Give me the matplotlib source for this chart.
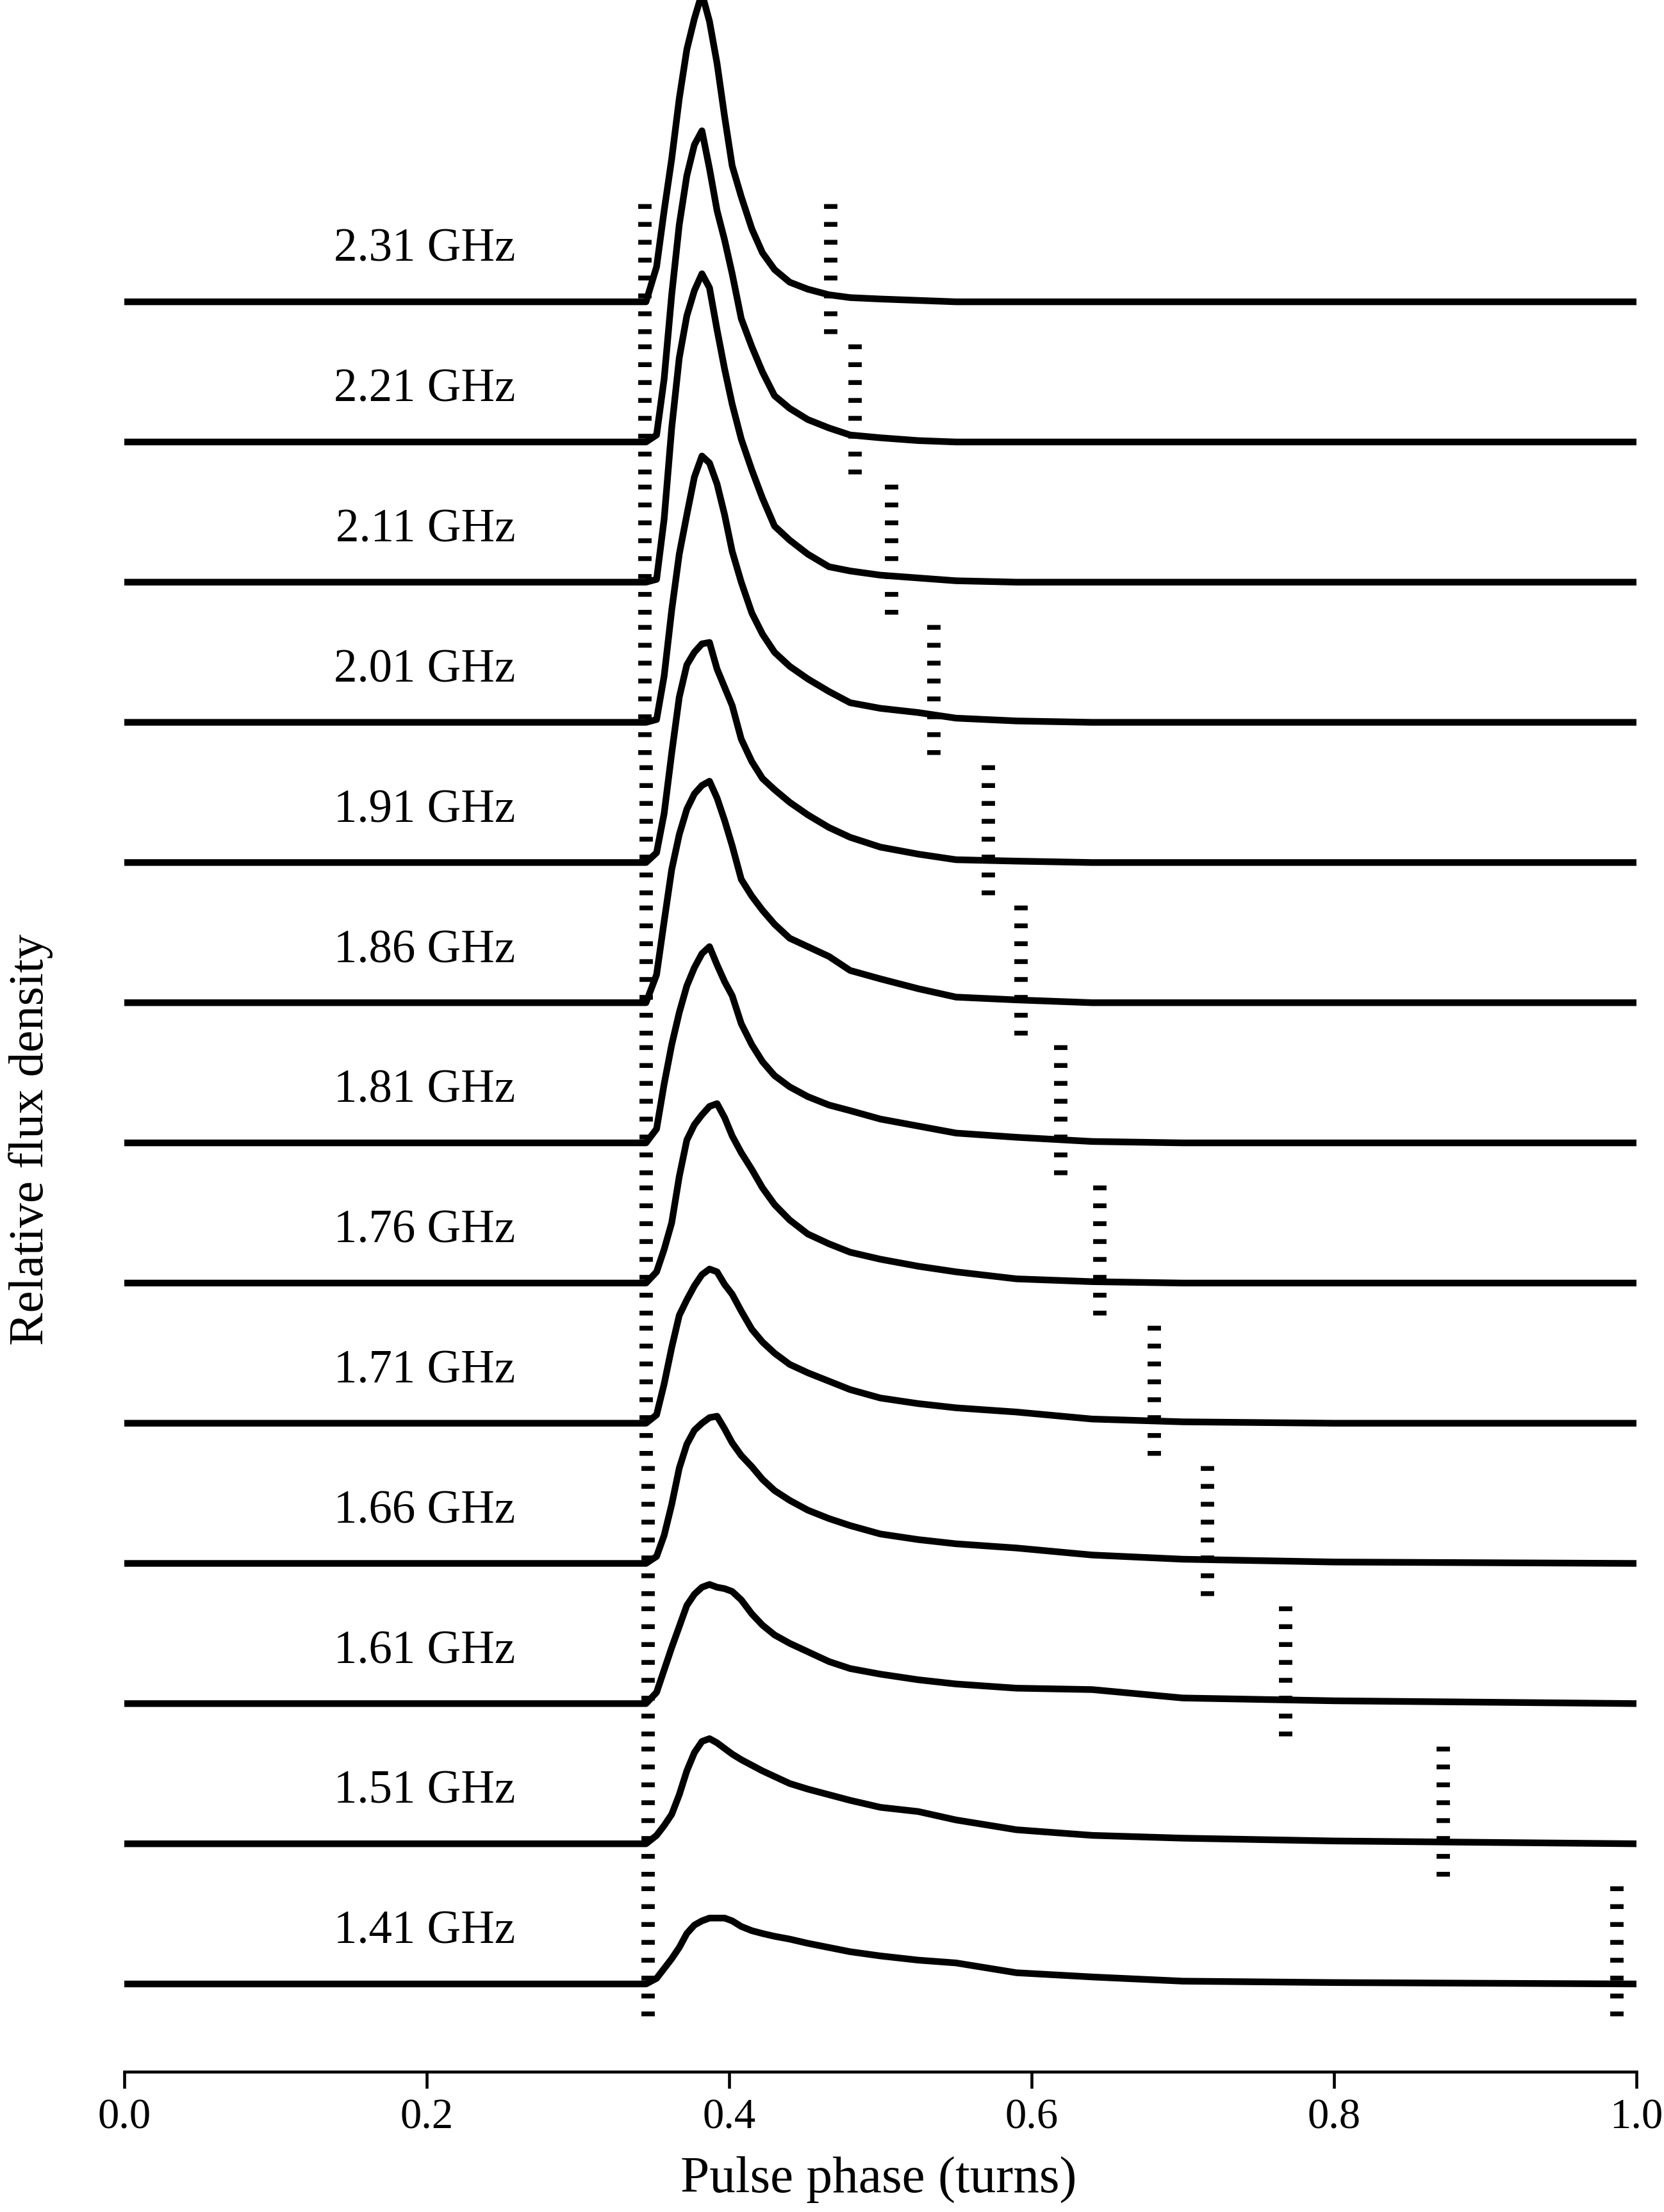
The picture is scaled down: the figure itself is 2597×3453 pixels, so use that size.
import matplotlib
matplotlib.use('Agg')
import matplotlib.pyplot as plt

plt.rcParams['font.family'] = ['Liberation Serif', 'DejaVu Serif']

# ---------------- data ----------------
freq_labels = ['2.31 GHz', '2.21 GHz', '2.11 GHz', '2.01 GHz', '1.91 GHz', '1.86 GHz',
               '1.81 GHz', '1.76 GHz', '1.71 GHz', '1.66 GHz', '1.61 GHz', '1.51 GHz',
               '1.41 GHz']

phase_grid = [0.0, 0.345, 0.352, 0.357, 0.362, 0.367, 0.372, 0.377, 0.382, 0.387,
              0.392, 0.397, 0.402, 0.408, 0.415, 0.422, 0.430, 0.440, 0.452, 0.466,
              0.480, 0.500, 0.525, 0.550, 0.590, 0.640, 0.700, 0.800, 1.0]

prof_231 = [0, 0, 0.25, 0.65, 1.02, 1.45, 1.80, 2.02, 2.20, 2.00, 1.70, 1.32, 0.97, 0.75,
            0.52, 0.35, 0.23, 0.14, 0.09, 0.05, 0.03, 0.02, 0.01, 0, 0, 0, 0, 0, 0]
prof_221 = [0, 0, 0.05, 0.45, 1.05, 1.55, 1.90, 2.12, 2.22, 1.95, 1.65, 1.44, 1.20, 0.88,
            0.68, 0.50, 0.33, 0.24, 0.16, 0.10, 0.05, 0.03, 0.01, 0, 0, 0, 0, 0, 0]
prof_211 = [0, 0, 0.02, 0.45, 1.10, 1.60, 1.90, 2.08, 2.20, 2.10, 1.80, 1.52, 1.27, 1.02,
            0.80, 0.60, 0.40, 0.30, 0.20, 0.11, 0.08, 0.05, 0.03, 0.01, 0, 0, 0, 0, 0]
prof_201 = [0, 0, 0.02, 0.33, 0.80, 1.20, 1.48, 1.75, 1.90, 1.85, 1.70, 1.48, 1.22, 1.00,
            0.78, 0.63, 0.50, 0.40, 0.31, 0.22, 0.14, 0.10, 0.07, 0.03, 0.01, 0, 0, 0, 0]
prof_191 = [0, 0, 0.07, 0.35, 0.78, 1.18, 1.41, 1.50, 1.56, 1.57, 1.38, 1.25, 1.12, 0.88,
            0.72, 0.60, 0.52, 0.43, 0.34, 0.25, 0.18, 0.11, 0.06, 0.02, 0.01, 0, 0, 0, 0]
prof_186 = [0, 0, 0.20, 0.58, 0.95, 1.20, 1.38, 1.49, 1.55, 1.58, 1.46, 1.30, 1.12, 0.88,
            0.76, 0.66, 0.56, 0.46, 0.40, 0.33, 0.23, 0.17, 0.10, 0.04, 0.02, 0, 0, 0, 0]
prof_181 = [0, 0, 0.10, 0.42, 0.70, 0.93, 1.12, 1.25, 1.35, 1.40, 1.27, 1.15, 1.05, 0.85,
            0.70, 0.58, 0.48, 0.40, 0.33, 0.27, 0.23, 0.17, 0.12, 0.07, 0.04, 0.01, 0, 0, 0]
prof_176 = [0, 0, 0.08, 0.24, 0.43, 0.76, 1.02, 1.13, 1.20, 1.26, 1.28, 1.18, 1.05, 0.93,
            0.81, 0.68, 0.56, 0.45, 0.35, 0.28, 0.22, 0.17, 0.12, 0.08, 0.03, 0.01, 0, 0, 0]
prof_171 = [0, 0, 0.06, 0.28, 0.54, 0.77, 0.88, 0.98, 1.06, 1.10, 1.08, 0.99, 0.92, 0.80,
            0.67, 0.58, 0.50, 0.42, 0.36, 0.30, 0.24, 0.18, 0.14, 0.11, 0.08, 0.03, 0.01, 0, 0]
prof_166 = [0, 0, 0.05, 0.20, 0.42, 0.68, 0.85, 0.95, 1.00, 1.04, 1.05, 0.96, 0.86, 0.77,
            0.69, 0.60, 0.52, 0.45, 0.38, 0.32, 0.27, 0.21, 0.17, 0.14, 0.11, 0.06, 0.03, 0.01, 0]
prof_161 = [0, 0, 0.08, 0.24, 0.40, 0.55, 0.70, 0.78, 0.83, 0.85, 0.83, 0.82, 0.80, 0.74,
            0.64, 0.56, 0.49, 0.43, 0.37, 0.30, 0.25, 0.21, 0.17, 0.14, 0.11, 0.10, 0.04, 0.02, 0]
prof_151 = [0, 0, 0.06, 0.13, 0.21, 0.35, 0.52, 0.65, 0.73, 0.75, 0.72, 0.68, 0.64, 0.60,
            0.56, 0.52, 0.48, 0.43, 0.39, 0.35, 0.31, 0.26, 0.23, 0.17, 0.10, 0.06, 0.04, 0.02, 0]
prof_141 = [0, 0, 0.04, 0.11, 0.18, 0.26, 0.36, 0.42, 0.45, 0.47, 0.47, 0.47, 0.45, 0.41,
            0.38, 0.36, 0.34, 0.32, 0.29, 0.26, 0.23, 0.20, 0.17, 0.15, 0.08, 0.05, 0.02, 0.01, 0]

# phases of the dotted window markers (left / right edge of each profile)
left_edge = [0.344, 0.344, 0.344, 0.344, 0.345, 0.345, 0.345, 0.345, 0.345, 0.346,
             0.346, 0.346, 0.346]
right_edge = [0.467, 0.483, 0.507, 0.535, 0.571, 0.593, 0.619, 0.645, 0.681, 0.716,
              0.768, 0.872, 0.987]

x_ticks = [0.0, 0.2, 0.4, 0.6, 0.8, 1.0]
x_tick_labels = ['0.0', '0.2', '0.4', '0.6', '0.8', '1.0']

profiles = [prof_231, prof_221, prof_211, prof_201, prof_191, prof_186, prof_181,
            prof_176, prof_171, prof_166, prof_161, prof_151, prof_141]

# ---------------- figure ----------------
W, H, DPI = 2597, 3453, 300
fig = plt.figure(figsize=(W / DPI, H / DPI), dpi=DPI)
ax = fig.add_axes([194 / W, 1 - 3234 / H, 2360 / W, 3234 / H])

n = len(profiles)
for i, (lab, prof, le, re) in enumerate(zip(freq_labels, profiles, left_edge, right_edge)):
    base = (n - 1 - i) * 1.0
    for xm in (le, re):
        ax.plot([xm, xm], [base - 0.23, base + 0.70], color='black', lw=5.0,
                dashes=(0.36, 0.98), dash_capstyle='butt', zorder=1)
    ax.plot(phase_grid, [base + v for v in prof], color='black', lw=2.5,
            solid_joinstyle='round', zorder=2)
    ax.text(0.2585, base + 0.37, lab, ha='right', va='center', fontsize=17.5)

ax.set_xlim(0, 1)
ax.set_ylim(-0.626, 14.153)

for s in ('top', 'right', 'left'):
    ax.spines[s].set_visible(False)
ax.spines['bottom'].set_linewidth(1.1)
ax.set_yticks([])
ax.set_xticks(x_ticks)
ax.set_xticklabels(x_tick_labels)
ax.tick_params(axis='x', direction='out', length=6.3, width=1.1, pad=3.6, labelsize=16)

ax.set_xlabel('Pulse phase (turns)', fontsize=19.5, va='center')
ax.xaxis.set_label_coords(0.499, -0.052)
ax.set_ylabel('Relative flux density', fontsize=18.5, va='center', ha='center')
ax.yaxis.set_label_coords(-0.062, 0.45)

fig.savefig('out.png', dpi=DPI)
